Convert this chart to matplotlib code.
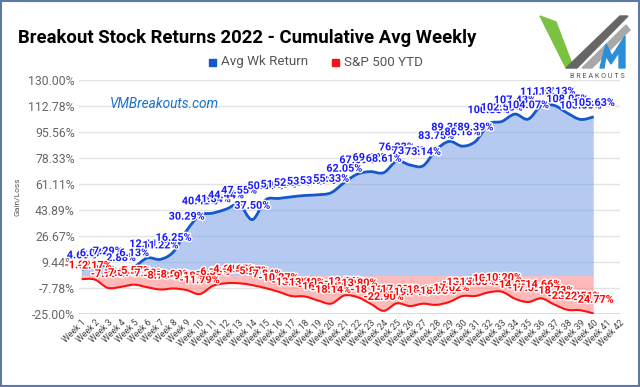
import matplotlib
matplotlib.use("Agg")
import matplotlib.pyplot as plt
import matplotlib.patheffects as pe
from matplotlib.patches import Polygon, Rectangle, PathPatch
from matplotlib.path import Path

weeks = [f"Week {i}" for i in range(1, 43)]
avg_wk_return = [4.66, 6.07, 7.29, 2.88, 6.13, 12.11, 11.22, 16.25, 30.29, 40.42,
                 41.84, 44.44, 47.55, 37.50, 50.51, 51.55, 52.63, 53.53, 53.97, 55.33,
                 62.05, 67.69, 69.32, 68.61, 76.23, 73.75, 73.14, 83.75, 89.35, 86.18,
                 89.39, 100.85, 102.53, 107.43, 104.07, 112.87, 113.13, 108.05, 103.85, 105.63]
sp500_ytd = [-1.92, -2.17, -7.73, -7.01, -5.57, -7.28, -8.78, -8.09, -9.18, -11.79,
             -6.36, -4.64, -4.65, -5.87, -7.84, -10.27, -13.13, -13.40, -16.03, -18.14,
             -12.76, -13.80, -18.16, -22.90, -17.93, -19.74, -18.19, -18.95, -17.02, -13.13,
             -13.05, -10.65, -10.20, -14.87, -17.06, -14.66, -18.73, -22.22, -22.51, -24.77]
y_ticks = [-25.00, -7.78, 9.44, 26.67, 43.89, 61.11, 78.33, 95.56, 112.78, 130.00]

plt.rcParams['font.family'] = ['Roboto', 'DejaVu Sans']


def smooth_path(xs, ys, close_to=None):
    """Cubic Bezier path through the data points (display smoothing only)."""
    pts = list(zip(xs, ys))
    n = len(pts)
    verts = [pts[0]]
    codes = [Path.MOVETO]
    k = 1 / 6
    for i in range(n - 1):
        p0 = pts[i - 1] if i > 0 else pts[i]
        p1 = pts[i]
        p2 = pts[i + 1]
        p3 = pts[i + 2] if i + 2 < n else pts[i + 1]
        c1 = (p1[0] + (p2[0] - p0[0]) * k, p1[1] + (p2[1] - p0[1]) * k)
        c2 = (p2[0] - (p3[0] - p1[0]) * k, p2[1] - (p3[1] - p1[1]) * k)
        verts += [c1, c2, p2]
        codes += [Path.CURVE4] * 3
    if close_to is not None:
        verts += [(xs[-1], close_to), (xs[0], close_to), pts[0]]
        codes += [Path.LINETO, Path.LINETO, Path.CLOSEPOLY]
    return Path(verts, codes)


W, H = 640, 387
fig = plt.figure(figsize=(W / 100, H / 100), dpi=100)
fig.patch.set_facecolor('white')

ax = fig.add_axes([79 / W, 1 - 314 / H, (620 - 79) / W, (314 - 80) / H])
x_blue = list(range(1, len(avg_wk_return) + 1))
x_red = list(range(1, len(sp500_ytd) + 1))

for t in y_ticks:
    ax.axhline(t, color='#e3e3e3', lw=1.0, zorder=0)
ax.axhline(y_ticks[0], color='#d6d6d6', lw=1.2, zorder=0)

ax.add_patch(PathPatch(smooth_path(x_blue, avg_wk_return, close_to=0),
                       facecolor='#7aa0e6', alpha=0.55, lw=0, zorder=1))
ax.add_patch(PathPatch(smooth_path(x_red, sp500_ytd, close_to=0),
                       facecolor='#ff8080', alpha=0.55, lw=0, zorder=1))
ax.add_patch(PathPatch(smooth_path(x_blue, avg_wk_return), facecolor='none',
                       edgecolor='#1558cc', lw=2.0, zorder=3))
ax.add_patch(PathPatch(smooth_path(x_red, sp500_ytd), facecolor='none',
                       edgecolor='#ff1010', lw=1.5, zorder=3))

halo = [pe.withStroke(linewidth=2.0, foreground='white')]
for xi, v in zip(x_blue, avg_wk_return):
    ax.annotate(f"{v:.2f}%", (xi, v), xytext=(0, 10), textcoords='offset points',
                ha='center', va='center', fontsize=7.8, fontweight='bold',
                color='#1a1aff', path_effects=halo, zorder=5)
for xi, v in zip(x_red, sp500_ytd):
    ax.annotate(f"{v:.2f}%", (xi, v), xytext=(0, 10), textcoords='offset points',
                ha='center', va='center', fontsize=7.8, fontweight='bold',
                color='#ff0000', path_effects=halo, zorder=6)

ax.set_xlim(0.8, 42)
ax.set_ylim(-25, 130)
ax.set_yticks(y_ticks)
ax.set_yticklabels([f"{t:.2f}%" for t in y_ticks], color='#666666', fontsize=8.8)
ax.set_xticks(range(1, 43))
ax.set_xticklabels(weeks, rotation=45, ha='right', rotation_mode='anchor',
                   fontsize=6.3, color='#444444')
ax.tick_params(axis='both', length=0, pad=3)
for s in ax.spines.values():
    s.set_visible(False)
ax.set_facecolor('none')
ax.set_ylabel('Gain/Loss', fontsize=6, color='#555555', labelpad=6)

# title, legend, watermark
fig.text(18 / W, 1 - 38 / H, 'Breakout Stock Returns 2022 - Cumulative Avg Weekly',
         fontsize=13.3, fontweight='bold', color='#000000', va='center', ha='left')
lg_y = 1 - 62 / H
fig.patches.append(Rectangle((209 / W, lg_y - 3.5 / H), 7 / W, 7 / H, color='#1558cc',
                             transform=fig.transFigure, figure=fig))
fig.text(221 / W, lg_y, 'Avg Wk Return', fontsize=9.6, color='#555555', va='center')
fig.patches.append(Rectangle((332 / W, lg_y - 3.5 / H), 7 / W, 7 / H, color='#ff1010',
                             transform=fig.transFigure, figure=fig))
fig.text(344 / W, lg_y, 'S&P 500 YTD', fontsize=9.6, color='#555555', va='center')
fig.text(110 / W, 1 - 104 / H, 'VMBreakouts.com', fontsize=9.8, style='italic',
         color='#1a73c8', va='center')

# logo overlay
lax = fig.add_axes([0, 0, 1, 1], zorder=-1)
lax.set_xlim(0, W)
lax.set_ylim(H, 0)
lax.axis('off')
lax.add_patch(Polygon([(540, 16), (556, 22), (572, 64), (566, 68)], closed=True, color='#7cc242'))
lax.add_patch(Polygon([(566, 68), (577, 68), (628, 16), (620, 16)], closed=True, color='#666666'))
lax.add_patch(Polygon([(582, 68), (592, 68), (630, 30), (626, 25)], closed=True, color='#a8a8a8'))
lax.add_patch(Polygon([(600, 68), (606, 44), (612, 56), (625, 36), (625, 68), (619, 68),
                       (619, 52), (611, 64), (606, 56), (604, 68)], closed=True, color='#2a8fd6'))
lax.text(597, 76, 'B R E A K O U T S', fontsize=5.2, color='#555555', ha='center', va='center')
lax.add_patch(Rectangle((1, 1), W - 2, H - 2, fill=False, ec='#5a78a8', lw=1.5))

fig.savefig('out.png', dpi=100, facecolor='white')
